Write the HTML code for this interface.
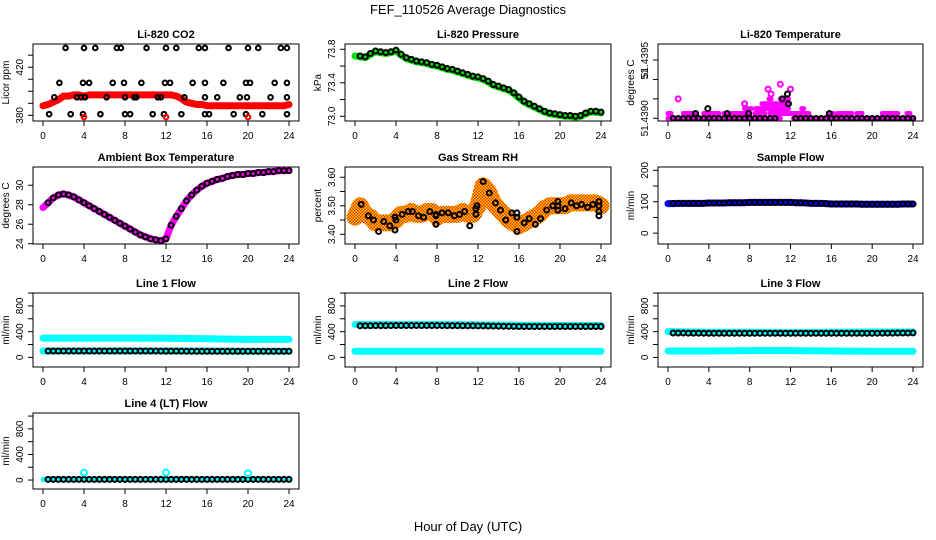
<!DOCTYPE html>
<html><head><meta charset="utf-8">
<style>
body{margin:0;background:#fff;}
svg{display:block;font-family:"Liberation Sans",Arial,sans-serif;}
</style></head>
<body>
<svg id="chart" width="936" height="540" viewBox="0 0 936 540" xmlns="http://www.w3.org/2000/svg">
<defs>
<pattern id="speck" width="3" height="3" patternUnits="userSpaceOnUse">
<rect width="3" height="3" fill="#ffd000"/>
<rect x="0" y="0" width="1.5" height="1.5" fill="#f03000"/>
<rect x="1.5" y="1.5" width="1.5" height="1.5" fill="#f03000"/>
</pattern>
</defs>
<rect width="936" height="540" fill="#fff"/>
<text x="468" y="14" font-size="13" text-anchor="middle">FEF_110526  Average Diagnostics</text>
<text x="468" y="531" font-size="13" text-anchor="middle">Hour of Day (UTC)</text>
</svg>
<script>
// ---- data ----
const hours = [0,0.5,1,1.5,2,2.5,3,3.5,4,4.5,5,5.5,6,6.5,7,7.5,8,8.5,9,9.5,10,10.5,11,11.5,12,12.5,13,13.5,14,14.5,15,15.5,16,16.5,17,17.5,18,18.5,19,19.5,20,20.5,21,21.5,22,22.5,23,23.5,24];
const xTicks = [0,4,8,12,16,20,24];

const co2Red = [388,389,391,393,396,396,397,397,396,397,397,397,397,397,397,397,397,397,397,397,397,397,397,397,397,397,396,394,391,390,389,389,388,388,388,388,388,388,388,388,388,388,388,388,388,388,388,388,389];
const co2BlackX = [2.2,4,5.1,7.2,7.6,10.1,12,13,15.2,15.8,18.1,20,21,23.2,23.8, 1.6,3.9,4.5,6.8,7.9,9.6,11.9,12.4,14.6,15.8,17.6,19.8,20.2,22.6,23.8, 1.1,3.3,3.7,4.1,6.2,8,8.9,9.1,11.2,11.5,13.8,15.8,17,19.2,19.9,22.2,23.8, 0.6,2.7,3.9,5.6,8,8.5,10.7,11.8,13.5,15.8,16.2,18.6,19.8,21.4,23.8];
const co2BlackY = [436,436,436,436,436,436,436,436,436,436,436,436,436,436,436, 407,407,407,407,407,407,407,407,407,407,407,407,407,407,407, 395,395,395,395,395,395,395,395,395,395,395,395,395,395,395,395,395, 381,381,381,381,381,381,381,381,381,381,381,381,381,381,381];
const co2RedPtX = [4,12,20];
const co2RedPtY = [378.6,378.6,378.6];

const pressure = [73.72,73.71,73.70,73.74,73.77,73.76,73.75,73.76,73.78,73.73,73.69,73.67,73.65,73.64,73.63,73.61,73.60,73.58,73.56,73.55,73.53,73.51,73.49,73.47,73.46,73.44,73.41,73.37,73.35,73.33,73.31,73.27,73.22,73.17,73.14,73.11,73.08,73.05,73.03,73.02,73.01,73.00,73.00,72.99,73.00,73.03,73.05,73.05,73.04];

const tempSegLevel = [0,0, 0.5,0.5,0.5,0.5,0.5,0.5,0.5,0.5,0.5,0.5,0.5, 1,1,1, 1.5, 2,2];
const tempSegStart = [0,12.3, 0,1.5,3.5,5.5,8.5,10,15.8,16.6,18.5,21,23.4, 7.5,8.6,13.1, 9.2, 9.9,11];
const tempSegEnd   = [11,24, 0.3,2.8,5,8,9.5,13.8,16.2,18,19,22.5,23.7, 8.2,11.8,13.3, 11.8, 10.1,11.8];
const tempPtX = [1,7.5,9.8,10.1,11,12,11.7,11.2,11.8,3.9,2.7,5.8,7.9,15.8];
const tempPtL = [2,1.5,3,2.5,3.5,3,2.5,2,1.5,1,0.5,0.5,0.5,0.5];
const tempPtBlack = [0,0,0,0,0,0,1,1,1,1,1,1,1,1];

const ambient = [27.7,28.2,28.7,29.0,29.1,29.0,28.8,28.5,28.2,27.9,27.6,27.3,27.0,26.7,26.4,26.1,25.8,25.5,25.2,24.9,24.7,24.5,24.4,24.3,24.5,25.9,26.8,27.6,28.4,29.0,29.5,29.9,30.2,30.4,30.6,30.7,30.9,31.0,31.1,31.1,31.2,31.2,31.3,31.3,31.4,31.4,31.5,31.5,31.5];

const rh = [3.46,3.50,3.47,3.46,3.44,3.44,3.44,3.44,3.45,3.47,3.47,3.48,3.47,3.47,3.48,3.48,3.46,3.47,3.47,3.47,3.47,3.48,3.47,3.47,3.50,3.57,3.55,3.51,3.49,3.47,3.45,3.44,3.43,3.44,3.45,3.46,3.47,3.49,3.50,3.50,3.50,3.50,3.51,3.51,3.51,3.51,3.51,3.51,3.50];
const rhPtX = [0.6,1.3,1.8,2.3,2.8,3.4,3.9,4,3.9,4.6,5.2,5.6,6.2,6.7,7.3,7.9,7.9,7.9,8.5,9.1,9.7,10.2,10.7,11.2,11.8,11.9,11.8,12.5,13.1,13.7,14.2,14.7,15.3,15.8,15.8,15.8,16.5,17,17.6,18.1,18.7,19.3,19.8,19.8,19.8,20.5,21.1,21.6,22.1,22.7,23.2,23.8,23.8,23.8,23.8];
const rhPtY = [3.505,3.465,3.45,3.41,3.445,3.43,3.46,3.45,3.415,3.47,3.48,3.48,3.465,3.46,3.48,3.465,3.47,3.435,3.475,3.475,3.465,3.47,3.48,3.43,3.49,3.5,3.47,3.585,3.545,3.51,3.485,3.45,3.475,3.46,3.475,3.41,3.44,3.455,3.435,3.455,3.485,3.5,3.515,3.5,3.485,3.49,3.51,3.5,3.505,3.495,3.505,3.515,3.5,3.48,3.465];

const sampleBlue  = [94,94,95,95,95,95,95,95,96,96,96,96,97,97,97,97,98,98,98,98,98,98,98,98,98,97,97,96,95,95,95,94,93,93,93,93,93,93,92,92,92,92,92,92,92,92,93,93,93];
const sampleBlack = [95,95,95,95,95,95,95,95,96,96,96,96,97,97,97,97,98,98,98,98,98,98,98,98,98,97,97,96,95,95,95,94,93,93,93,93,93,93,92,92,92,92,92,92,92,92,93,93,93];

const flowX = [0,4,8,12,16,20,24];
const line1Hi = [300,300,300,298,290,280,280];
const line1Lo = [100,100,100,100,100,95,95];
const line1Black = [100,100,100,98,95,95,95];
const line2Hi = [510,510,510,505,500,495,495];
const line2Lo = [95,95,95,95,95,95,95];
const line2Black = [490,495,495,490,480,480,480];
const line3Hi = [400,390,390,385,390,395,395];
const line3Lo = [100,100,105,105,100,95,95];
const line3Black = [380,375,375,375,375,375,380];
const line4Cyan = [10,10,10,10,10,10,10];
const line4Black = [10,10,10,10,10,10,10];
const line4SpikeX = [4,12,20];
const line4SpikeY = [115,115,105];

// ---- drawing ----
const svg = document.getElementById('chart');
const NS = 'http://www.w3.org/2000/svg';
const X0 = [43,355,668], X24 = [289,601,913];
const ROWS = [[44,121],[167,244],[293,367],[413,489]];

function mk(tag, parent, attrs){const e=document.createElementNS(NS,tag);for(const k in attrs)e.setAttribute(k,attrs[k]);parent.appendChild(e);return e;}

function makePanel(name,col,row,title,ylab,ymin,ymax,yTicks,yLabels,labelPos){
  const g = mk('g',svg,{});
  
  
  const left=X0[col]-10,right=X24[col]+10,top=ROWS[row][0],bot=ROWS[row][1];
  const sx=v=>X0[col]+(X24[col]-X0[col])*v/24;
  const sy=v=>bot-(v-ymin)/(ymax-ymin)*(bot-top);
  const t = mk('text',g,{x:(left+right)/2,y:top-6,'font-size':11,'font-weight':'bold','text-anchor':'middle'});
  t.textContent=title;
  
  
  const box = mk('rect',g,{x:left,y:top,width:right-left,height:bot-top,fill:'none',stroke:'#000','stroke-width':1});
  
  
  const xa = mk('g',g,{});
  
  
  mk('line',xa,{x1:sx(0),x2:sx(24),y1:bot,y2:bot,stroke:'#000'});
  xTicks.forEach(v=>{
    mk('line',xa,{x1:sx(v),x2:sx(v),y1:bot,y2:bot+5,stroke:'#000'});
    const l=mk('text',xa,{x:sx(v),y:bot+18,'font-size':10,'text-anchor':'middle'});l.textContent=v;
  });
  const ya = mk('g',g,{});
  
  
  mk('line',ya,{x1:left,x2:left,y1:sy(yTicks[0]),y2:sy(yTicks[yTicks.length-1]),stroke:'#000'});
  yTicks.forEach(v=>mk('line',ya,{x1:left-5,x2:left,y1:sy(v),y2:sy(v),stroke:'#000'}));
  yLabels.forEach((s,i)=>{
    const yy = labelPos ? labelPos[i] : sy(parseFloat(s));
    const l=mk('text',ya,{x:left-10,y:yy,'font-size':10,'text-anchor':'middle',transform:`rotate(-90 ${left-10} ${yy})`});l.textContent=s;
  });
  const yl=mk('text',g,{x:left-24,y:(top+bot)/2,'font-size':10,'text-anchor':'middle',transform:`rotate(-90 ${left-24} ${(top+bot)/2})`});
  yl.textContent=ylab;
  
  
  const clipId='c'+col+row;
  const cp=mk('clipPath',g,{id:clipId});mk('rect',cp,{x:left,y:top,width:right-left,height:bot-top});
  const plot=mk('g',g,{'clip-path':`url(#${clipId})`});
  return {g:plot,sx,sy};
}
function band(p,name,xs,ys,color,w){
  const e=mk('polyline',p.g,{points:xs.map((x,i)=>p.sx(x)+','+p.sy(ys[i])).join(' '),fill:'none',stroke:color,'stroke-width':w,'stroke-linejoin':'round','stroke-linecap':'round'});
  
  
}
function pts(p,name,xs,ys,color,r,sw){
  const gg=mk('g',p.g,{});
  
  
  xs.forEach((x,i)=>mk('circle',gg,{cx:p.sx(x),cy:p.sy(ys[i]),r:r,fill:'none',stroke:color,'stroke-width':sw||2}));
}

// CO2
let p=makePanel('co2-panel',0,0,'Li-820 CO2','Licor ppm',375.3,439.3,[380,390,400,410,420,430],['380','420']);
band(p,'co2-red-band',hours,co2Red,'#f00',7);
pts(p,'co2-black-points',co2BlackX,co2BlackY,'#000',2.3);
pts(p,'co2-red-points',co2RedPtX,co2RedPtY,'#f00',2.3);

// Pressure
p=makePanel('pressure-panel',1,0,'Li-820 Pressure','kPa',72.944,73.863,[73.0,73.2,73.4,73.6,73.8],['73.0','73.4','73.8']);
band(p,'pressure-green-band',hours,pressure,'#00e000',7);
pts(p,'pressure-black-points',hours.slice(1),pressure.slice(1).map(v=>v+0.01),'#000',2.5);

// Temperature
const T0=51.4390, TU=0.00005;
p=makePanel('li820-temp-panel',2,0,'Li-820 Temperature','degrees C',T0-0.0000139,T0+0.0003824,[T0,T0+0.0001,T0+0.0002,T0+0.0003],['51.4390','51','51.4395'],[118.3,74,60]);
tempSegLevel.forEach((L,i)=>band(p,'temp-magenta-band',[tempSegStart[i],tempSegEnd[i]],[T0+L*TU,T0+L*TU],'#f0f',5));
pts(p,'temp-black-points',hours.filter(h=>h>=0.5&&(h<11||h>12)),hours.filter(h=>h>=0.5&&(h<11||h>12)).map(()=>T0),'#000',2.3);
tempPtX.forEach((x,i)=>pts(p,'temp-point',[x],[T0+tempPtL[i]*TU],tempPtBlack[i]?'#000':'#f0f',2.5));

// Ambient
p=makePanel('ambient-temp-panel',0,1,'Ambient Box Temperature','degrees C',23.97,31.87,[24,26,28,30],['24','26','28','30']);
band(p,'ambient-magenta-band',hours,ambient,'#f0f',7);
pts(p,'ambient-black-points',hours.slice(1),ambient.slice(1),'#000',2.5);

// RH
p=makePanel('gas-rh-panel',1,1,'Gas Stream RH','percent',3.366,3.636,[3.40,3.45,3.50,3.55,3.60],['3.40','3.50','3.60']);
band(p,'rh-speckled-cloud',hours,rh,'url(#speck)',17);
pts(p,'rh-black-points',rhPtX,rhPtY,'#000',2.5);

// Sample flow
p=makePanel('sample-flow-panel',2,1,'Sample Flow','ml/min',-34.5,210.6,[0,50,100,150,200],['0','100','200']);
band(p,'sample-blue-band',hours,sampleBlue,'#00f',7);
pts(p,'sample-black-points',hours.slice(1),sampleBlack.slice(1),'#000',2.5);

// Line flows
const fT=[0,200,400,600,800,1000], fL=['0','400','800'];
function flowPanel(name,col,row,title,hi,lo,bl){
  const q=makePanel(name,col,row,title,'ml/min',-149,1000,fT,fL);
  band(q,'cyan-high-band',flowX,hi,'#0ff',7);
  band(q,'cyan-low-band',flowX,lo,'#0ff',7);
  const bx=hours.slice(1);
  pts(q,'black-points',bx,bx.map(h=>{let k=Math.min(5,Math.floor(h/4));return bl[k]+(bl[k+1]-bl[k])*(h-4*k)/4;}),'#000',2.5);
  return q;
}
flowPanel('line1-flow-panel',0,2,'Line 1 Flow',line1Hi,line1Lo,line1Black);
flowPanel('line2-flow-panel',1,2,'Line 2 Flow',line2Hi,line2Lo,line2Black);
flowPanel('line3-flow-panel',2,2,'Line 3 Flow',line3Hi,line3Lo,line3Black);
p=makePanel('line4-flow-panel',0,3,'Line 4 (LT) Flow','ml/min',-140,1048,fT,fL);
band(p,'line4-cyan-band',flowX,line4Cyan,'#0ff',5);
pts(p,'line4-black-points',hours.slice(1),hours.slice(1).map(h=>line4Black[Math.min(6,Math.round(h/4))]),'#000',2.5);
pts(p,'line4-cyan-spikes',line4SpikeX,line4SpikeY,'#0ff',3);
</script>
</body></html>
